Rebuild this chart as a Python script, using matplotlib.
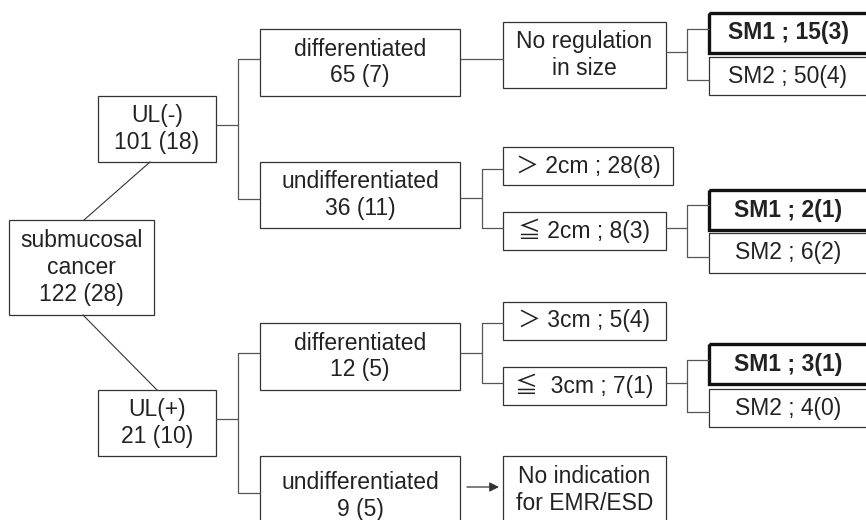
import matplotlib
matplotlib.use('Agg')
import matplotlib.pyplot as plt
from matplotlib.patches import Rectangle

plt.rcParams['font.family'] = ['Liberation Sans', 'Noto Sans CJK JP', 'DejaVu Sans']

# node labels of the tree
root_label = 'submucosal\ncancer\n122 (28)'
ul_labels = ['UL(-)\n101 (18)', 'UL(+)\n21 (10)']
histo_labels = ['differentiated\n65 (7)', 'undifferentiated\n36 (11)',
                'differentiated\n12 (5)', 'undifferentiated\n9 (5)']
size_labels = ['No regulation\nin size',
               '\uff1e 2cm ; 28(8)', '\u2266 2cm ; 8(3)',
               '\uff1e 3cm ; 5(4)', '\u2266  3cm ; 7(1)',
               'No indication\nfor EMR/ESD']
sm1_labels = ['SM1 ; 15(3)', 'SM1 ; 2(1)', 'SM1 ; 3(1)']
sm2_labels = ['SM2 ; 50(4)', 'SM2 ; 6(2)', 'SM2 ; 4(0)']

TXT = '#222222'
EDGE = '#333333'
LINE = '#555555'
FS = 16.5

fig = plt.figure(figsize=(8.66, 5.2), dpi=100)
ax = fig.add_axes([0, 0, 1, 1])
ax.set_xlim(0, 866)
ax.set_ylim(520, 0)
ax.axis('off')


def box(x0, y0, x1, y1, label, bold=False, ty=None, tx=None):
    lw = 2.4 if bold else 0.9
    ax.add_patch(Rectangle((x0, y0), x1 - x0, y1 - y0, fill=False,
                           edgecolor='#111111' if bold else EDGE, lw=lw,
                           clip_on=True))
    if ty is None:
        ty = (y0 + y1) / 2
    if tx is None:
        tx = (x0 + x1) / 2
    ax.text(tx, ty, label, ha='center', va='center', fontsize=FS,
            color=TXT, fontweight='bold' if bold else 'normal',
            linespacing=1.2)


def line(xs, ys):
    ax.plot(xs, ys, color=LINE, lw=0.9, solid_capstyle='butt')


def bracket(x_from, y_from, x_mid, y_top, y_bot, x_to):
    line([x_from, x_mid], [y_from, y_from])
    line([x_to, x_mid, x_mid, x_to], [y_top, y_top, y_bot, y_bot])


# root and ulcer level
box(9, 220, 154, 315, root_label)
box(98, 96, 216, 162, ul_labels[0])
box(98, 390, 216, 456, ul_labels[1])
ax.plot([150, 84], [162, 220], color='#333333', lw=0.8)
ax.plot([83, 157], [315, 390], color='#333333', lw=0.8)

# histology level
bracket(216, 125, 238, 59, 199, 260)
bracket(216, 419, 238, 353, 493, 260)
box(260, 29, 460, 96, histo_labels[0])
box(260, 162, 460, 228, histo_labels[1])
box(260, 323, 460, 390, histo_labels[2])
box(260, 456, 460, 536, histo_labels[3], ty=496)

# size level
line([460, 503], [59, 59])
box(503, 22, 666, 88, size_labels[0])
bracket(460, 198, 482, 169, 228, 503)
box(503, 147, 673, 185, size_labels[1])
box(503, 212, 666, 250, size_labels[2])
bracket(460, 353, 482, 323, 383, 503)
box(503, 302, 666, 340, size_labels[3])
box(503, 367, 666, 405, size_labels[4])
ax.annotate('', xy=(499, 487), xytext=(467, 487),
            arrowprops=dict(arrowstyle='-|>', color='#333333', lw=0.9,
                            mutation_scale=14, shrinkA=0, shrinkB=0))
box(503, 456, 666, 530, size_labels[5], ty=490)

# depth level
sm_rows = [(52, 13, 53, 57, 95, 29, 80),
           (228, 190, 230, 233, 273, 205, 257),
           (383, 344, 384, 389, 427, 360, 412)]
for i, (yc, a0, a1, b0, b1, yt, yb) in enumerate(sm_rows):
    x_src = 666
    bracket(x_src, yc, 687, yt, yb, 709)
    box(709, b0, 880, b1, sm2_labels[i], tx=788)
    box(709, a0, 880, a1, sm1_labels[i], bold=True, tx=788)

fig.savefig('out.png', dpi=100)
